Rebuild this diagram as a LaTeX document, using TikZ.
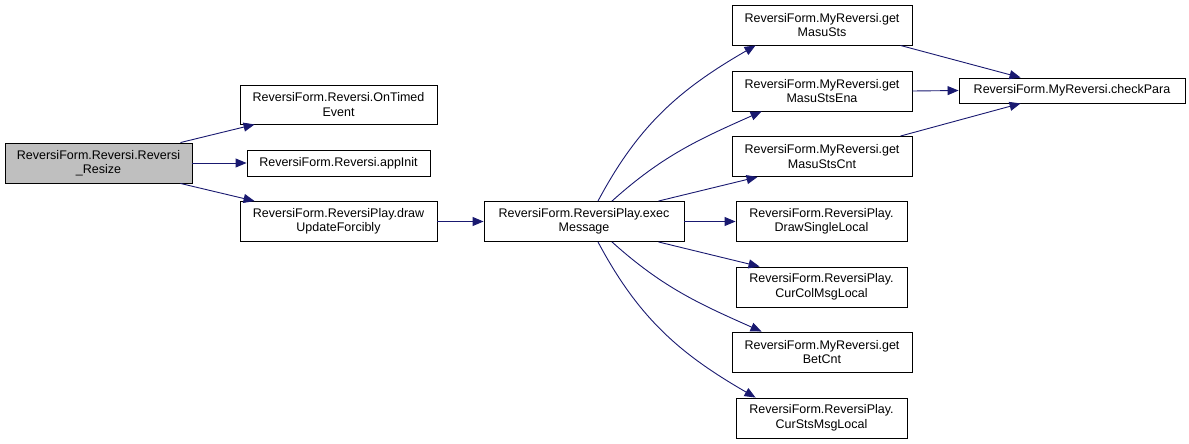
\documentclass[tikz,border=0pt]{standalone}
\usepackage{fontspec}
\setmainfont{Liberation Sans}
\usetikzlibrary{arrows.meta,calc}
\definecolor{edgecol}{HTML}{191970}
\begin{document}
\begin{tikzpicture}[x=1pt,y=-1pt,
  box/.style={draw=black,line width=0.9pt,fill=white,inner sep=0pt,align=center,
    font=\fontsize{12.5}{14.5}\selectfont},
  edge/.style={draw=edgecol,line width=0.9pt,-{Triangle[length=11pt,width=9pt]}}]
\useasboundingbox (0,0) rectangle (1189,444);
\node[box,fill=black!25,minimum width=187pt,minimum height=40pt] (root) at (98.5,163) {ReversiForm.Reversi.Reversi\\\_Resize};
\node[box,minimum width=197pt,minimum height=39pt] (ont) at (338.5,104.5) {ReversiForm.Reversi.OnTimed\\Event};
\node[box,minimum width=183pt,minimum height=26pt] (app) at (338.5,163) {ReversiForm.Reversi.appInit};
\node[box,minimum width=197pt,minimum height=40pt] (duf) at (338.5,221.5) {ReversiForm.ReversiPlay.draw\\UpdateForcibly};
\node[box,minimum width=200pt,minimum height=40pt] (exec) at (584,221.5) {ReversiForm.ReversiPlay.exec\\Message};
\node[box,minimum width=180pt,minimum height=40pt] (gms) at (822,25) {ReversiForm.MyReversi.get\\MasuSts};
\node[box,minimum width=180pt,minimum height=40pt] (gmse) at (822,91) {ReversiForm.MyReversi.get\\MasuStsEna};
\node[box,minimum width=180pt,minimum height=40pt] (gmsc) at (822,156.5) {ReversiForm.MyReversi.get\\MasuStsCnt};
\node[box,minimum width=171pt,minimum height=40pt] (dsl) at (821.5,221.5) {ReversiForm.ReversiPlay.\\DrawSingleLocal};
\node[box,minimum width=171pt,minimum height=40pt] (ccl) at (821.5,287) {ReversiForm.ReversiPlay.\\CurColMsgLocal};
\node[box,minimum width=180pt,minimum height=40pt] (bet) at (822,352) {ReversiForm.MyReversi.get\\BetCnt};
\node[box,minimum width=171pt,minimum height=40pt] (csl) at (821.5,418) {ReversiForm.ReversiPlay.\\CurStsMsgLocal};
\node[box,minimum width=226pt,minimum height=25pt] (chk) at (1072,90.5) {ReversiForm.MyReversi.checkPara};

\draw[edge] ($(root.north east)+(-12,0)$) -- ($(ont.south west)+(15,0)$);
\draw[edge] (root.east) -- (app.west);
\draw[edge] ($(root.south east)+(-12,0)$) -- ($(duf.north west)+(15,0)$);
\draw[edge] (duf.east) -- (exec.west);
\draw[edge] ($(exec.north)+(14,0)$) to[out=62,in=-150] ($(gms.south west)+(24,0)$);
\draw[edge] ($(exec.north)+(28,0)$) to[out=42,in=-156] ($(gmse.south west)+(30,0)$);
\draw[edge] ($(exec.north east)+(-26,0)$) -- ($(gmsc.south west)+(26,0)$);
\draw[edge] (exec.east) -- (dsl.west);
\draw[edge] ($(exec.south east)+(-26,0)$) -- ($(ccl.north west)+(24,0)$);
\draw[edge] ($(exec.south)+(28,0)$) to[out=-42,in=156] ($(bet.north west)+(30,0)$);
\draw[edge] ($(exec.south)+(14,0)$) to[out=-62,in=150] ($(csl.north west)+(20,0)$);
\draw[edge] ($(gms.south east)+(-12,0)$) -- ($(chk.north west)+(62,0)$);
\draw[edge] (gmse.east) -- (chk.west);
\draw[edge] ($(gmsc.north east)+(-12,0)$) -- ($(chk.south west)+(62,0)$);
\end{tikzpicture}
\end{document}
